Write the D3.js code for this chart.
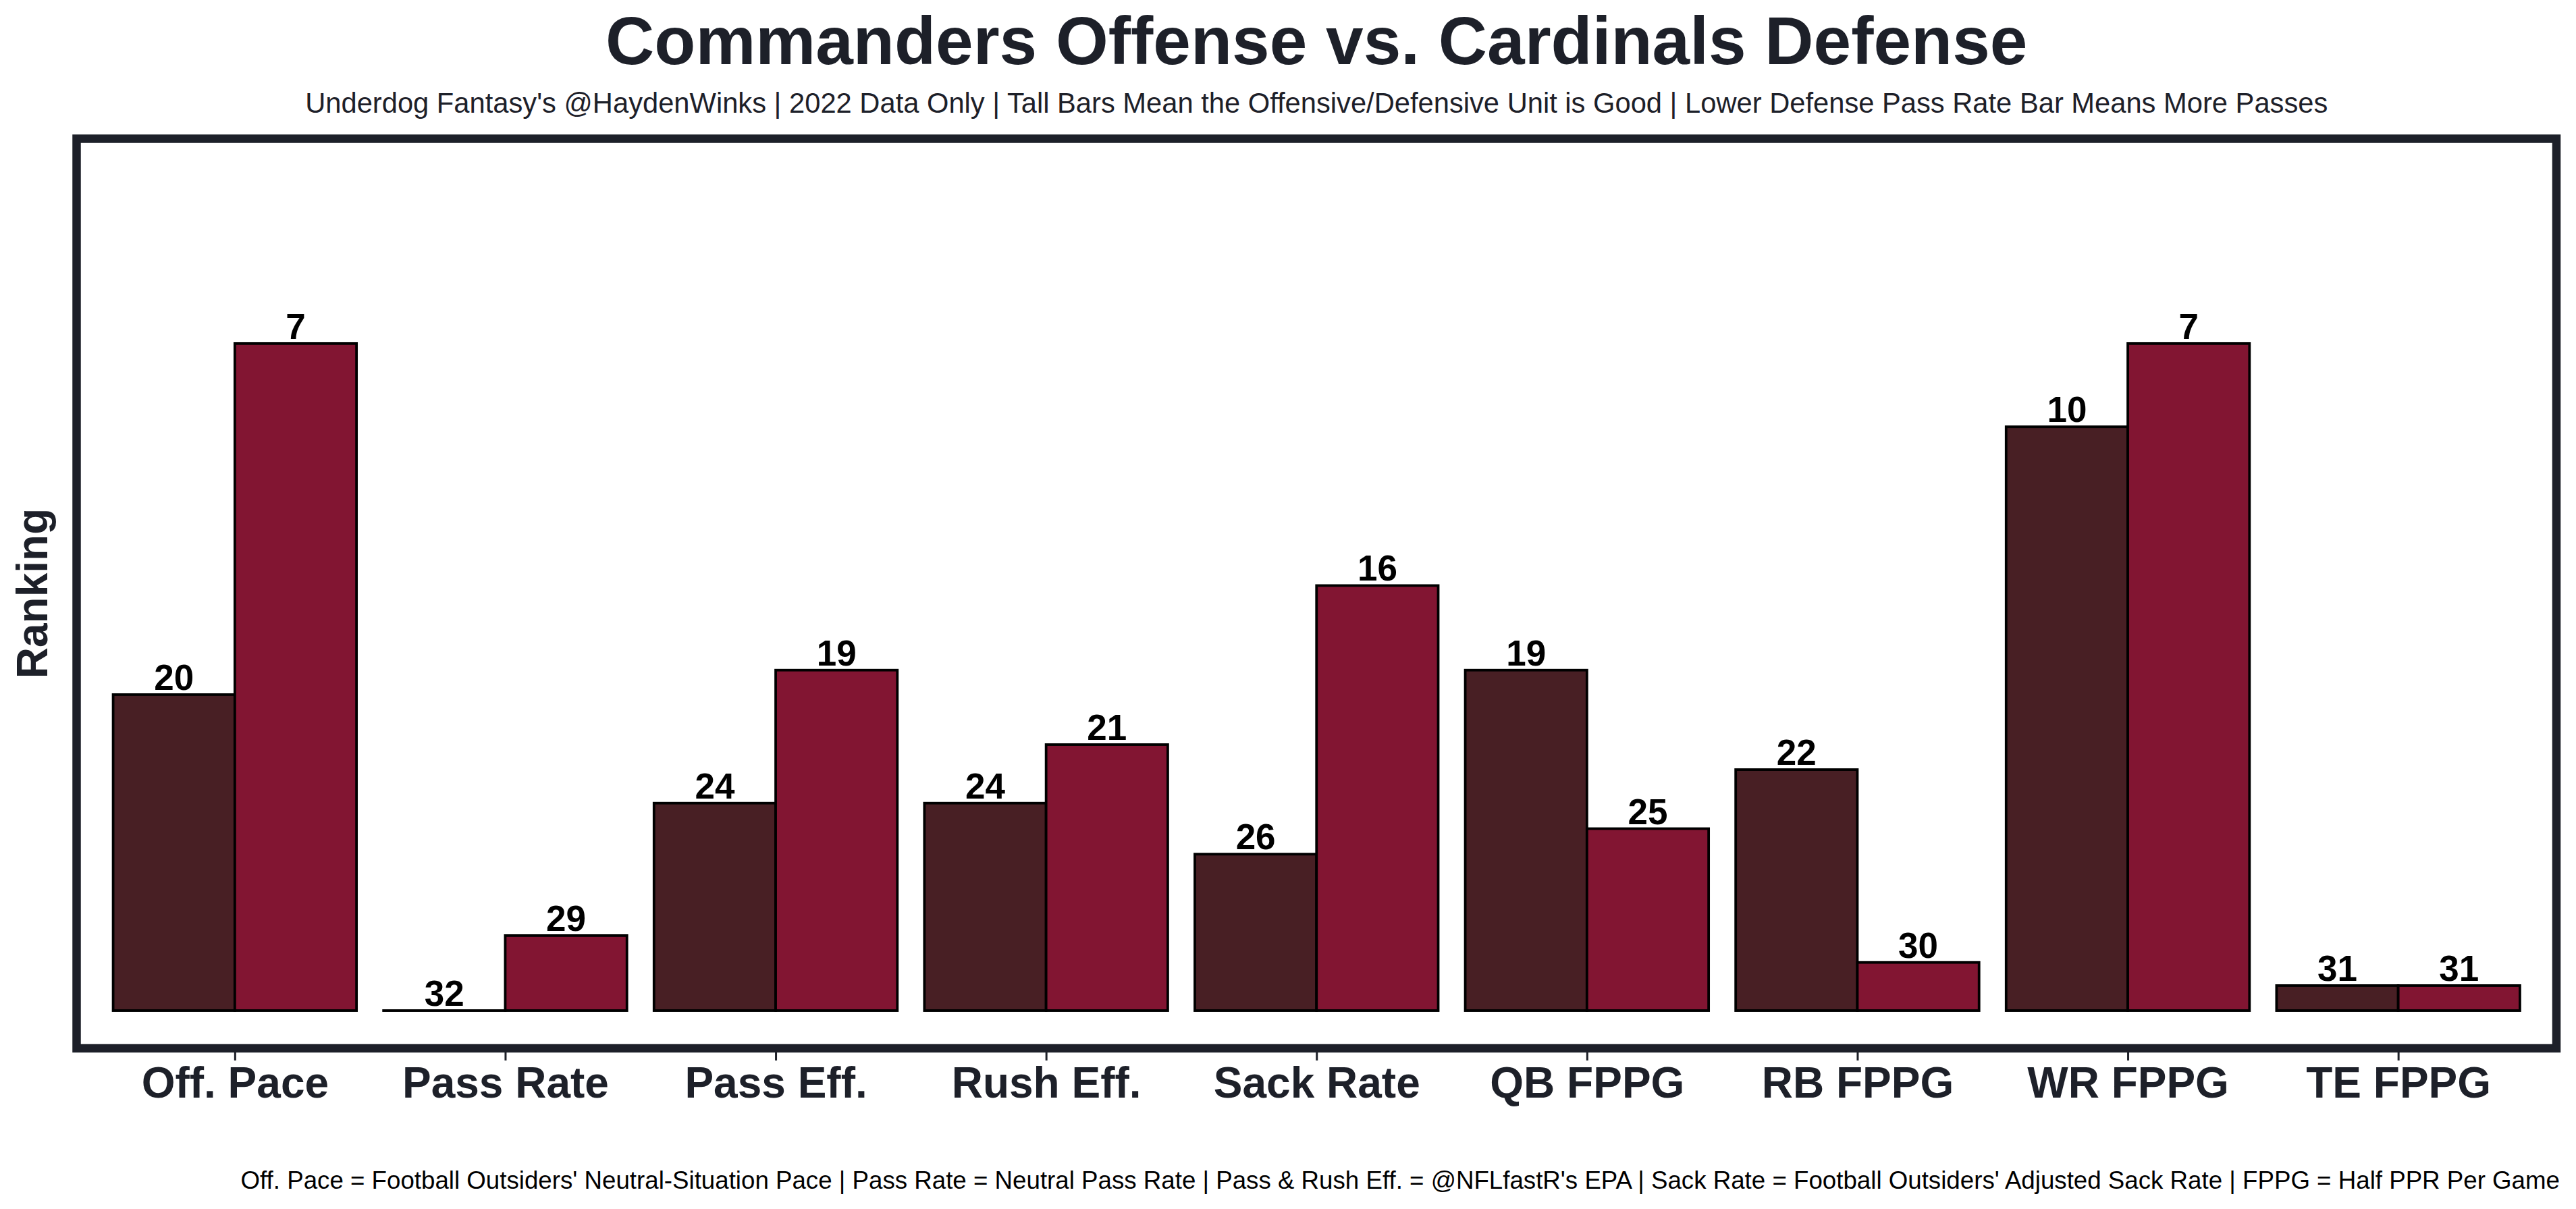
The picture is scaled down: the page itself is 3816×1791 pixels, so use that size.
<!DOCTYPE html>
<html>
<head>
<meta charset="utf-8">
<script src="https://cdn.jsdelivr.net/npm/d3@7"></script>
<style>
  html, body { margin: 0; padding: 0; background: #ffffff; }
  svg { display: block; }
  text { font-family: "Liberation Sans", Arial, Helvetica, sans-serif; }
</style>
</head>
<body>
<svg id="chart" width="3816" height="1791"></svg>
<script>
// ---- Data ----
const categories = ["Off. Pace", "Pass Rate", "Pass Eff.", "Rush Eff.", "Sack Rate", "QB FPPG", "RB FPPG", "WR FPPG", "TE FPPG"];
// Rank labels shown above the bars
const offenseRanks = [20, 32, 24, 24, 26, 19, 22, 10, 31];   // Commanders offense
const defenseRanks = [7, 29, 19, 21, 16, 25, 30, 7, 31];     // Cardinals defense
// Bar heights (inverted ranking score)
const offenseScores = [11.88, 0, 7.8, 7.8, 5.88, 12.8, 9.06, 21.95, 0.94];
const defenseScores = [25.08, 2.82, 12.8, 10.0, 15.98, 6.84, 1.81, 25.08, 0.94];

const titleText = "Commanders Offense vs. Cardinals Defense";
const subtitleText = "Underdog Fantasy's @HaydenWinks | 2022 Data Only | Tall Bars Mean the Offensive/Defensive Unit is Good | Lower Defense Pass Rate Bar Means More Passes";
const footerText = "Off. Pace = Football Outsiders' Neutral-Situation Pace | Pass Rate = Neutral Pass Rate | Pass & Rush Eff. = @NFLfastR's EPA | Sack Rate = Football Outsiders' Adjusted Sack Rate | FPPG = Half PPR Per Game";
const yLabel = "Ranking";

// ---- Layout ----
const W = 3816, H = 1791;
const frame = { left: 113.5, right: 3787, top: 205.5, bottom: 1553 };
const dark = "#1d2029";
const offColor = "#481f24";
const defColor = "#821532";
const barWidth = 0.45;

const svg = d3.select("#chart");
svg.append("rect").attr("width", W).attr("height", H).attr("fill", "#fff");

const x = d3.scaleLinear().domain([-0.585, categories.length - 1 + 0.585]).range([frame.left, frame.right]);
const y = d3.scaleLinear().domain([-1.42, 32.78]).range([frame.bottom, frame.top]);

const bars = [];
categories.forEach((c, i) => {
  bars.push({ i, rank: offenseRanks[i], score: offenseScores[i], side: -1, color: offColor });
  bars.push({ i, rank: defenseRanks[i], score: defenseScores[i], side: 0, color: defColor });
});

const g = svg.append("g");

// Bars
g.selectAll("rect.bar").data(bars).enter().append("rect")
  .attr("class", "bar")
  .attr("x", d => x(d.i + d.side * barWidth))
  .attr("width", d => x(barWidth) - x(0))
  .attr("y", d => y(d.score))
  .attr("height", d => Math.max(0.01, y(0) - y(d.score)))
  .attr("fill", d => d.color)
  .attr("stroke", "#000")
  .attr("stroke-width", 3.8);

// Value labels
g.selectAll("text.val").data(bars).enter().append("text")
  .attr("class", "val")
  .attr("x", d => x(d.i + d.side * barWidth + barWidth / 2))
  .attr("y", d => y(d.score) - 7)
  .attr("text-anchor", "middle")
  .attr("font-weight", "bold")
  .attr("font-size", 53)
  .attr("fill", "#000")
  .text(d => d.rank);

// Frame
svg.append("rect")
  .attr("x", frame.left).attr("y", frame.top)
  .attr("width", frame.right - frame.left).attr("height", frame.bottom - frame.top)
  .attr("fill", "none").attr("stroke", dark).attr("stroke-width", 12.5);

// X axis ticks and labels
const xAxis = d3.axisBottom(x)
  .tickValues(d3.range(categories.length))
  .tickFormat(i => categories[i])
  .tickSize(12)
  .tickPadding(10);
const ax = svg.append("g").attr("transform", `translate(0,${frame.bottom + 6})`).call(xAxis);
ax.select(".domain").remove();
ax.selectAll(".tick line").attr("stroke", dark).attr("stroke-width", 3);
ax.selectAll(".tick text")
  .attr("fill", dark)
  .attr("font-size", 64)
  .attr("font-weight", "bold")
  .attr("font-family", "'Liberation Sans', Arial, sans-serif")
  .attr("dy", null)
  .attr("y", 1626 - frame.bottom - 6);

// Y label
svg.append("text")
  .attr("transform", `translate(70,879) rotate(-90)`)
  .attr("text-anchor", "middle")
  .attr("font-weight", "bold")
  .attr("font-size", 64)
  .attr("fill", dark)
  .text(yLabel);

// Title and subtitle
const cx = (frame.left + frame.right) / 2;
svg.append("text")
  .attr("x", cx).attr("y", 95)
  .attr("text-anchor", "middle")
  .attr("font-weight", "bold")
  .attr("font-size", 100)
  .attr("fill", dark)
  .text(titleText);
svg.append("text")
  .attr("x", cx).attr("y", 167)
  .attr("text-anchor", "middle")
  .attr("font-size", 41.7)
  .attr("fill", dark)
  .text(subtitleText);

// Footer
svg.append("text")
  .attr("x", 3792).attr("y", 1761)
  .attr("text-anchor", "end")
  .attr("font-size", 36.7)
  .attr("fill", "#000")
  .text(footerText);
</script>
</body>
</html>
